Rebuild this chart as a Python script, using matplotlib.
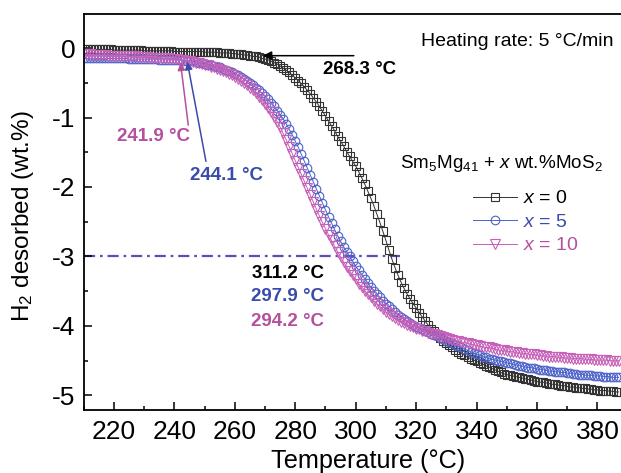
import matplotlib
matplotlib.use("Agg")
import matplotlib.pyplot as plt

plt.rcParams['font.family'] = ['Liberation Sans', 'DejaVu Sans']
plt.rcParams['mathtext.fontset'] = 'custom'
plt.rcParams['mathtext.rm'] = 'Liberation Sans'
plt.rcParams['mathtext.it'] = 'Liberation Sans:italic'
plt.rcParams['axes.unicode_minus'] = False

# temperature grid of the measurement (1 degC steps)
temperature = list(range(210, 388))

# x = 0 (squares)
h2_x0 = [
    -0.02, -0.02, -0.02, -0.02, -0.02, -0.02, -0.02, -0.02, -0.02, -0.02,
    -0.03, -0.03, -0.03, -0.03, -0.03, -0.03, -0.03, -0.03, -0.03, -0.03,
    -0.04, -0.04, -0.04, -0.04, -0.04, -0.04, -0.04, -0.04, -0.04, -0.04,
    -0.05, -0.05, -0.05, -0.05, -0.05, -0.05, -0.05, -0.05, -0.05, -0.05,
    -0.06, -0.06, -0.06, -0.06, -0.06, -0.07, -0.07, -0.07, -0.07, -0.08,
    -0.08, -0.09, -0.09, -0.10, -0.10, -0.11, -0.12, -0.12, -0.13, -0.15,
    -0.16, -0.17, -0.19, -0.21, -0.23, -0.26, -0.29, -0.32, -0.35, -0.39,
    -0.43, -0.47, -0.51, -0.56, -0.61, -0.66, -0.72, -0.78, -0.84, -0.91,
    -0.98, -1.05, -1.12, -1.19, -1.27, -1.34, -1.41, -1.49, -1.56, -1.63,
    -1.70, -1.78, -1.87, -1.96, -2.06, -2.16, -2.27, -2.39, -2.51, -2.64,
    -2.77, -2.91, -3.04, -3.16, -3.27, -3.37, -3.46, -3.54, -3.61, -3.68,
    -3.74, -3.81, -3.87, -3.93, -3.99, -4.04, -4.08, -4.13, -4.17, -4.21,
    -4.25, -4.28, -4.31, -4.34, -4.37, -4.40, -4.42, -4.45, -4.47, -4.49,
    -4.51, -4.53, -4.55, -4.57, -4.59, -4.61, -4.63, -4.65, -4.67, -4.69,
    -4.70, -4.71, -4.72, -4.73, -4.74, -4.75, -4.76, -4.77, -4.78, -4.79,
    -4.80, -4.81, -4.81, -4.82, -4.83, -4.84, -4.84, -4.85, -4.86, -4.86,
    -4.87, -4.88, -4.88, -4.89, -4.89, -4.90, -4.90, -4.91, -4.91, -4.92,
    -4.92, -4.93, -4.93, -4.93, -4.94, -4.94, -4.95, -4.95,
]

# x = 5 (circles)
h2_x5 = [
    -0.15, -0.15, -0.15, -0.15, -0.15, -0.15, -0.15, -0.15, -0.15, -0.15,
    -0.15, -0.15, -0.15, -0.15, -0.15, -0.16, -0.16, -0.16, -0.16, -0.16,
    -0.16, -0.16, -0.16, -0.16, -0.16, -0.17, -0.17, -0.17, -0.17, -0.17,
    -0.17, -0.17, -0.17, -0.18, -0.18, -0.19, -0.19, -0.20, -0.21, -0.22,
    -0.23, -0.24, -0.25, -0.26, -0.27, -0.28, -0.30, -0.31, -0.33, -0.35,
    -0.37, -0.39, -0.41, -0.44, -0.47, -0.50, -0.53, -0.57, -0.61, -0.65,
    -0.69, -0.74, -0.79, -0.84, -0.90, -0.96, -1.02, -1.09, -1.17, -1.25,
    -1.34, -1.43, -1.53, -1.63, -1.73, -1.83, -1.93, -2.03, -2.13, -2.23,
    -2.33, -2.43, -2.52, -2.61, -2.70, -2.78, -2.86, -2.93, -3.00, -3.07,
    -3.14, -3.20, -3.26, -3.32, -3.38, -3.44, -3.49, -3.54, -3.59, -3.64,
    -3.68, -3.72, -3.76, -3.80, -3.84, -3.87, -3.90, -3.93, -3.96, -3.99,
    -4.01, -4.03, -4.05, -4.07, -4.09, -4.11, -4.13, -4.15, -4.17, -4.19,
    -4.21, -4.23, -4.25, -4.27, -4.29, -4.31, -4.33, -4.35, -4.37, -4.39,
    -4.41, -4.42, -4.44, -4.45, -4.47, -4.48, -4.49, -4.50, -4.51, -4.52,
    -4.53, -4.54, -4.55, -4.56, -4.57, -4.58, -4.59, -4.60, -4.60, -4.61,
    -4.62, -4.63, -4.63, -4.64, -4.65, -4.65, -4.66, -4.66, -4.67, -4.67,
    -4.68, -4.68, -4.69, -4.69, -4.70, -4.70, -4.71, -4.71, -4.71, -4.72,
    -4.72, -4.72, -4.73, -4.73, -4.73, -4.74, -4.74, -4.74,
]

# x = 10 (triangles)
h2_x10 = [
    -0.09, -0.09, -0.09, -0.10, -0.10, -0.10, -0.10, -0.10, -0.11, -0.11,
    -0.11, -0.11, -0.11, -0.12, -0.12, -0.12, -0.12, -0.12, -0.13, -0.13,
    -0.13, -0.13, -0.14, -0.14, -0.14, -0.14, -0.15, -0.15, -0.15, -0.16,
    -0.16, -0.16, -0.17, -0.17, -0.18, -0.19, -0.20, -0.21, -0.22, -0.23,
    -0.24, -0.25, -0.27, -0.28, -0.30, -0.31, -0.33, -0.35, -0.37, -0.39,
    -0.41, -0.44, -0.47, -0.50, -0.53, -0.57, -0.61, -0.65, -0.70, -0.75,
    -0.80, -0.86, -0.92, -0.99, -1.06, -1.14, -1.23, -1.32, -1.42, -1.52,
    -1.62, -1.72, -1.82, -1.92, -2.02, -2.12, -2.22, -2.32, -2.42, -2.51,
    -2.60, -2.69, -2.77, -2.85, -2.93, -3.01, -3.08, -3.15, -3.21, -3.27,
    -3.33, -3.39, -3.44, -3.49, -3.54, -3.59, -3.64, -3.68, -3.72, -3.76,
    -3.80, -3.83, -3.86, -3.89, -3.92, -3.94, -3.96, -3.98, -4.00, -4.02,
    -4.04, -4.05, -4.07, -4.08, -4.10, -4.11, -4.12, -4.13, -4.15, -4.16,
    -4.18, -4.19, -4.20, -4.21, -4.22, -4.23, -4.24, -4.25, -4.26, -4.27,
    -4.28, -4.29, -4.30, -4.31, -4.31, -4.32, -4.33, -4.34, -4.35, -4.35,
    -4.36, -4.37, -4.37, -4.38, -4.39, -4.39, -4.40, -4.40, -4.41, -4.41,
    -4.42, -4.42, -4.43, -4.43, -4.44, -4.44, -4.44, -4.45, -4.45, -4.46,
    -4.46, -4.46, -4.47, -4.47, -4.47, -4.47, -4.48, -4.48, -4.48, -4.49,
    -4.49, -4.49, -4.49, -4.49, -4.50, -4.50, -4.50, -4.50,
]

onset_temps = [268.3, 244.1, 241.9]
half_temps = [311.2, 297.9, 294.2]
labels = ['$\\mathit{x}$ = 0', '$\\mathit{x}$ = 5', '$\\mathit{x}$ = 10']

BLACK = '#333333'
BLUE = '#4d62c8'
PINK = '#c660b8'
BLUE_TXT = '#3a4bab'
PINK_TXT = '#b5509f'

fig = plt.figure(figsize=(6.21, 4.73), dpi=100)
ax = fig.add_axes([0.1349, 0.1332, 0.8651, 0.8372])

ax.plot(temperature, h2_x0, color=BLACK, lw=0.7, marker='s', ms=6.0,
        mfc='none', mec=BLACK, mew=0.8, label=labels[0])
ax.plot(temperature, h2_x5, color=BLUE, lw=0.7, marker='o', ms=6.2,
        mfc='none', mec=BLUE, mew=0.8, label=labels[1])
ax.plot(temperature, h2_x10, color=PINK, lw=0.7, marker='v', ms=6.6,
        mfc='none', mec=PINK, mew=0.8, label=labels[2])

# dash-dot line at -3 wt.%
ax.plot([210, 314.7], [-3, -3], color='#5b4cc0', lw=1.6,
        linestyle=(0, (5, 2.2, 1.2, 2.2)), zorder=1)

ax.set_xlim(210, 387.8)
ax.set_ylim(-5.21, 0.49)
ax.set_xticks(range(220, 381, 20))
ax.set_xticks(range(210, 388, 10), minor=True)
ax.set_yticks([0, -1, -2, -3, -4, -5])
ax.set_yticks([-0.5, -1.5, -2.5, -3.5, -4.5], minor=True)

ax.spines['right'].set_visible(False)
for s in ['left', 'bottom', 'top']:
    ax.spines[s].set_linewidth(1.3)
ax.tick_params(which='both', direction='in', top=False, right=False, width=1.1)
ax.tick_params(which='major', length=6, labelsize=19)
ax.tick_params(which='minor', length=3)
ax.tick_params(axis='x', pad=7)
ax.tick_params(axis='y', pad=6)

fig.text(368 / 621, 1 - 461 / 473, 'Temperature (\u00b0C)', fontsize=18.2,
         ha='center', va='center')
fig.text(23 / 621, 1 - 216 / 473, 'H$_2$ desorbed (wt.%)', fontsize=17.5,
         ha='center', va='center', rotation=90)

# onset arrows
ax.annotate('', xy=(onset_temps[0], -0.11), xytext=(300.3, -0.11),
            arrowprops=dict(arrowstyle='-|>', color='black', lw=1.1,
                            mutation_scale=13))
ax.text(301.2, -0.31, '%.1f \u00b0C' % onset_temps[0], fontsize=13.5,
        fontweight='bold', color='black', ha='center', va='center')

ax.annotate('', xy=(onset_temps[1], -0.16), xytext=(250.6, -1.67),
            arrowprops=dict(arrowstyle='-|>', color=BLUE_TXT, lw=1.1,
                            mutation_scale=11))
ax.text(257.2, -1.84, '%.1f \u00b0C' % onset_temps[1], fontsize=13.5,
        fontweight='bold', color=BLUE_TXT, ha='center', va='center')

ax.annotate('', xy=(onset_temps[2], -0.17), xytext=(244.7, -1.15),
            arrowprops=dict(arrowstyle='-|>', color=PINK_TXT, lw=1.1,
                            mutation_scale=11))
ax.text(233.0, -1.28, '%.1f \u00b0C' % onset_temps[2], fontsize=13.5,
        fontweight='bold', color=PINK_TXT, ha='center', va='center')

# temperatures at -3 wt.%
for t, y, c in zip(half_temps, [-3.24, -3.58, -3.93], ['black', BLUE_TXT, PINK_TXT]):
    ax.text(277.5, y, '%.1f \u00b0C' % t, fontsize=13.5, fontweight='bold',
            color=c, ha='center', va='center')

ax.text(385.2, 0.09, 'Heating rate: 5 \u00b0C/min', fontsize=14,
        ha='right', va='center')
ax.text(314.7, -1.655, 'Sm$_5$Mg$_{41}$ + $\\mathit{x}$ wt.%MoS$_2$', fontsize=13.6,
        ha='left', va='center')

ax.legend(loc='upper left', bbox_to_anchor=(0.7245, 0.556), frameon=False,
          fontsize=14, handlelength=2.25, handletextpad=0.32, labelspacing=0.3,
          borderpad=0, borderaxespad=0,
          labelcolor=['black', BLUE_TXT, PINK_TXT])

fig.savefig('out.png', dpi=100)
